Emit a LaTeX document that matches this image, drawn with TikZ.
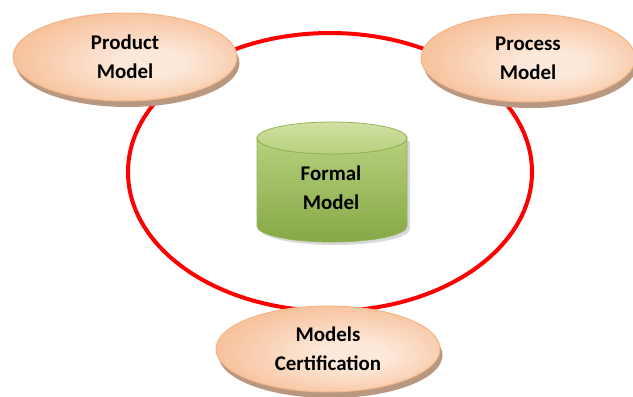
\documentclass[tikz,border=0pt]{standalone}
\usepackage{fontspec}
\setmainfont{Carlito}
\usepackage{tikz}
\usetikzlibrary{shapes.geometric,shadows}
\definecolor{peachlight}{HTML}{FDE9DA}
\definecolor{peachdark}{HTML}{F6BE96}
\definecolor{peachline}{HTML}{F4B589}
\definecolor{bevelcol}{HTML}{B89880}
\definecolor{greentop}{HTML}{D0E1A3}
\definecolor{greenlight}{HTML}{B7D07C}
\definecolor{greenmid}{HTML}{9BBC58}
\definecolor{greendark}{HTML}{86A845}
\definecolor{greenedge}{HTML}{93B256}
\colorlet{ringcol}{red}
\pgfdeclareradialshading{peach}{\pgfpoint{7bp}{-4bp}}{color(0bp)=(peachlight); color(7bp)=(peachlight); color(30bp)=(peachdark); color(50bp)=(peachdark)}
\tikzstyle{model}=[ellipse, draw=peachline, line width=1pt, shading=peach, align=center, inner sep=0pt, minimum width=224bp, minimum height=88bp, general shadow={shadow xshift=2.5bp, shadow yshift=-6bp, fill=bevelcol}]
\tikzstyle{label}=[font=\fontsize{21}{29}\selectfont\bfseries, align=center]
\tikzstyle{ring}=[line width=4bp, ringcol]

\begin{document}
\begin{tikzpicture}[x=1bp, y=-1bp]
			\useasboundingbox (0,0) rectangle (633,396);
			\coordinate (hub) at (330,172);

			% Ring
			\draw[ring] (hub) ellipse [x radius=202, y radius=139];

			% Cylinder
			\fill[black!15] (260,141) -- (260,229) arc[start angle=180, end angle=0, x radius=75, y radius=16] -- (410,141) -- cycle;
			\shade[top color=greenlight, middle color=greenmid, bottom color=greendark, draw=greenedge, line width=0.8pt]
				(257,138) -- (257,226) arc[start angle=180, end angle=0, x radius=75, y radius=16]
				-- (407,138) arc[start angle=0, end angle=180, x radius=75, y radius=16] -- cycle;
			\shade[top color=greentop, bottom color=greenlight, draw=greenedge, line width=0.8pt] (332,138) ellipse [x radius=75, y radius=16];
			\node[label] (formal) at (331,188) {Formal\\Model};

			% Models
			\node[model, label] (product) at (125,57) {Product\\Model};
			\node[model, label, minimum width=214bp] (process) at (528,58) {Process\\Model};
			\node[model, label, minimum height=86bp] (certif) at (328,349) {Models\\Certification};
		\end{tikzpicture}
\end{document}
